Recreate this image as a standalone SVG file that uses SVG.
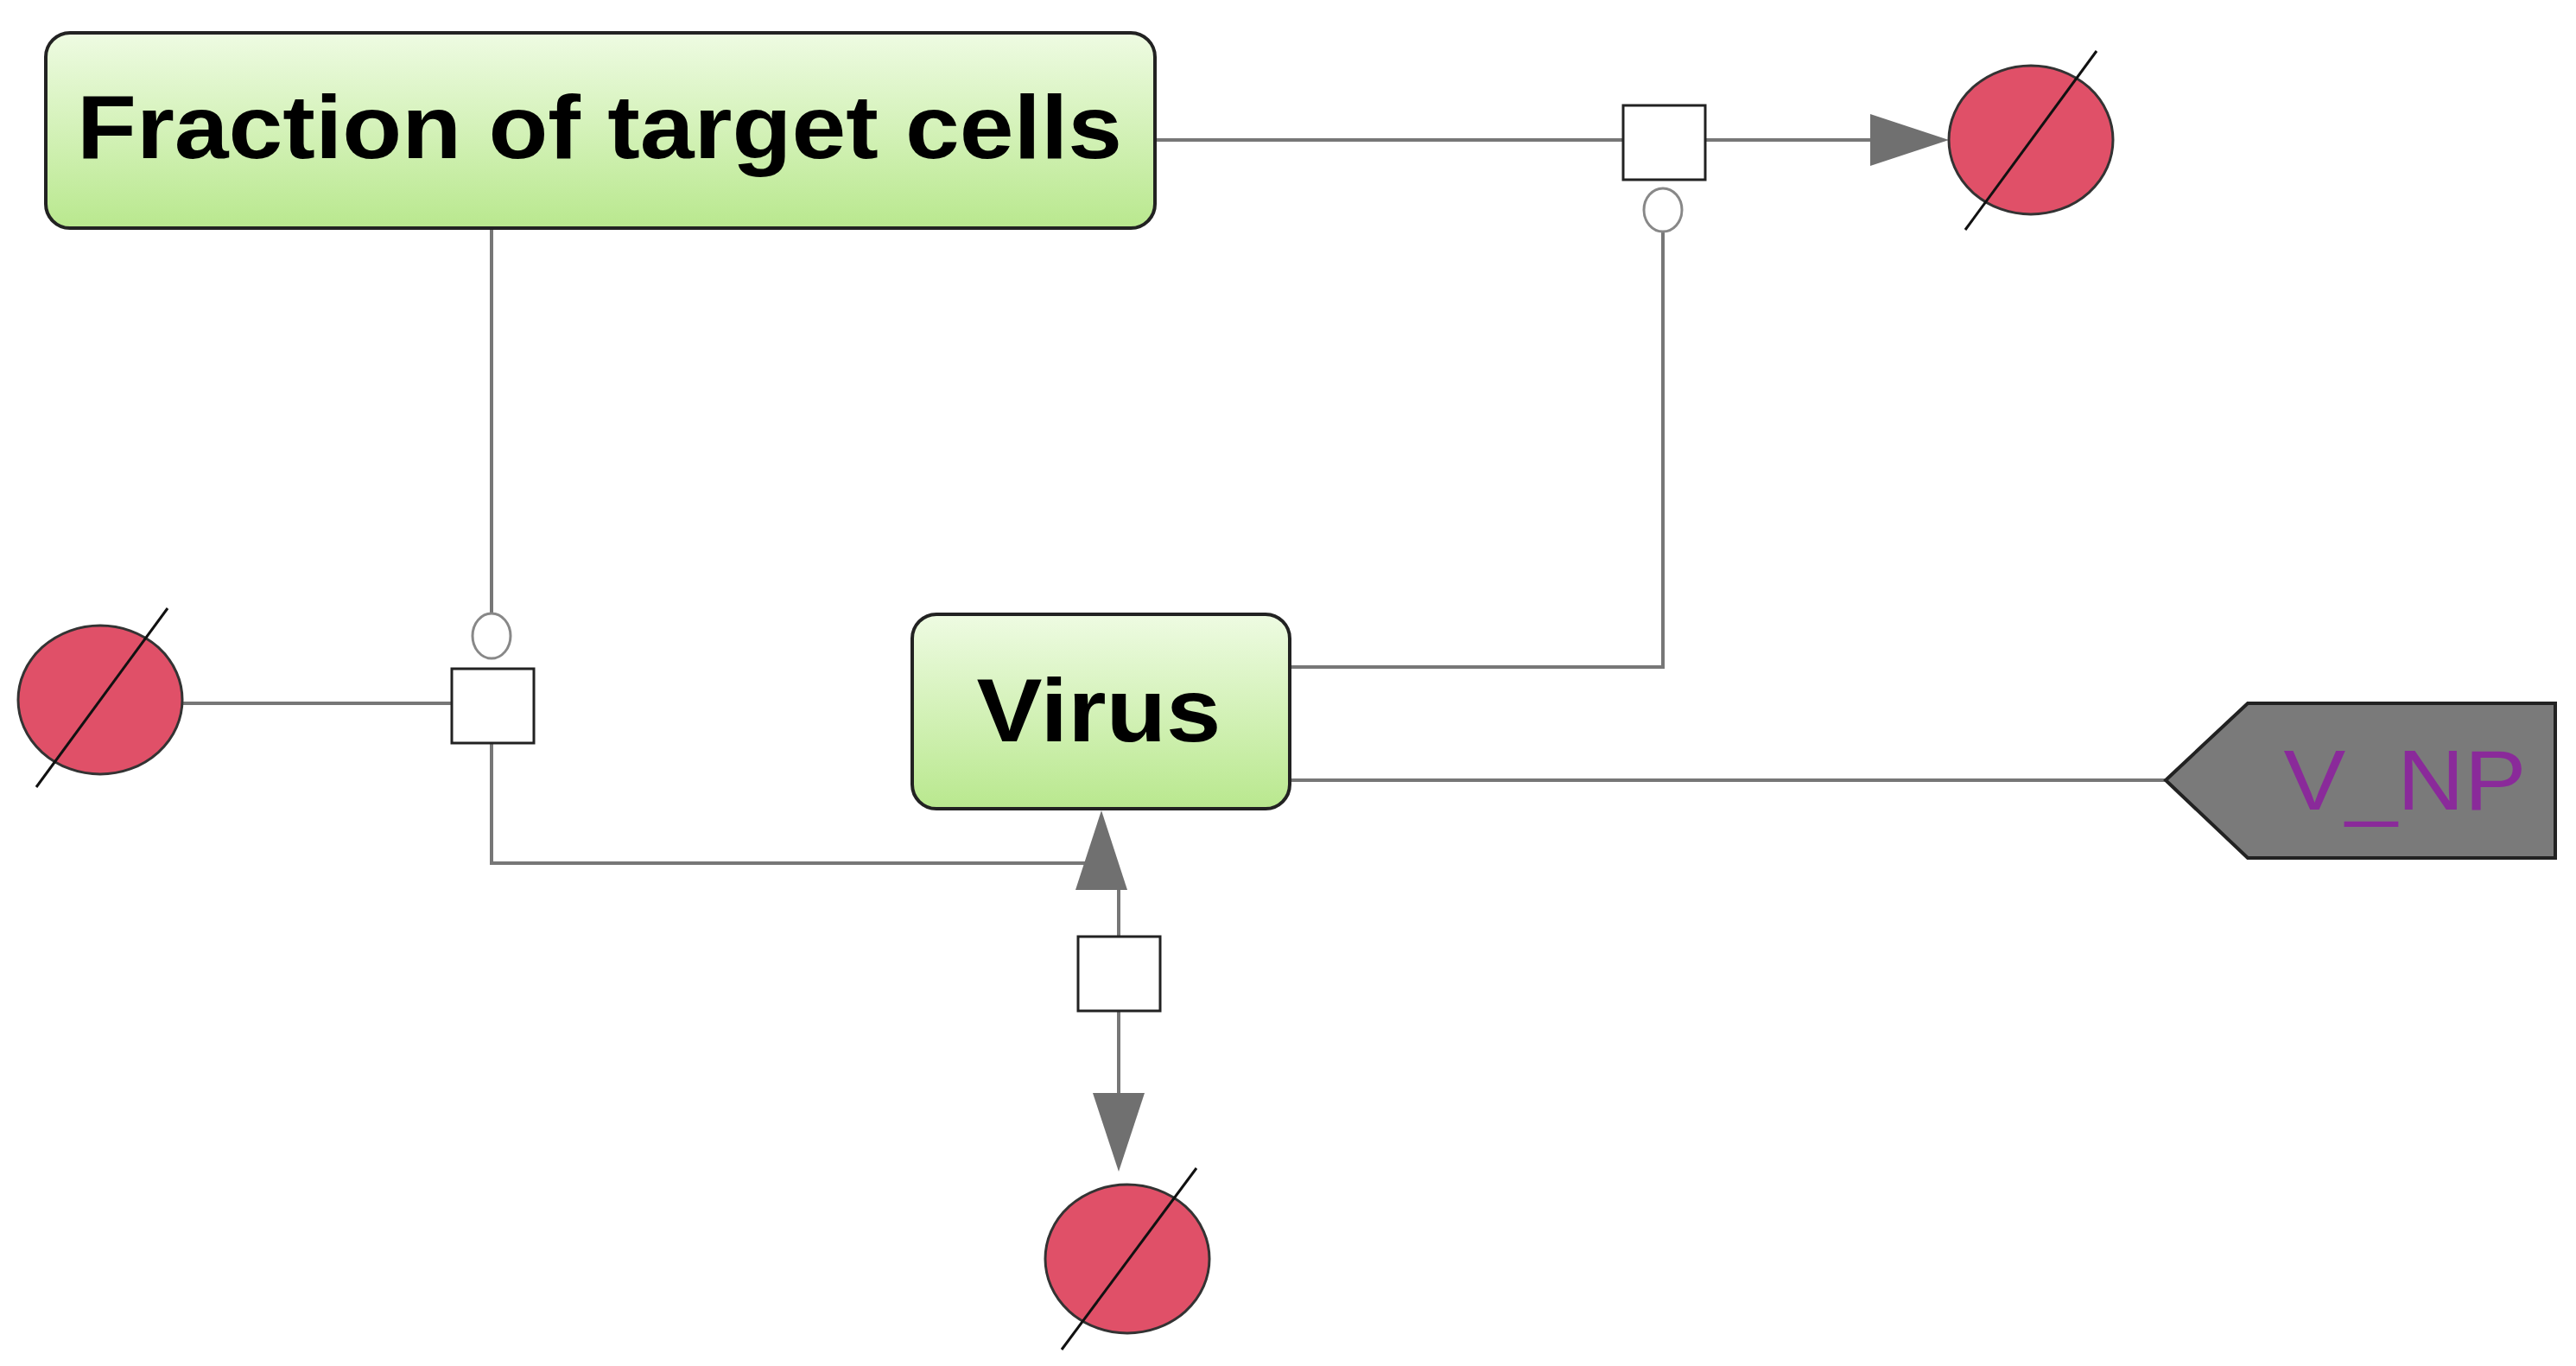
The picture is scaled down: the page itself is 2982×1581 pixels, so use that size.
<svg xmlns="http://www.w3.org/2000/svg" width="2982" height="1581" viewBox="0 0 2982 1581">
<defs>
<linearGradient id="g" x1="0" y1="0" x2="0" y2="1"><stop offset="0" stop-color="#eefbe2"/><stop offset="1" stop-color="#b9e88e"/></linearGradient>
</defs>
<style>
.ln{stroke:#777;stroke-width:4;fill:none}
.sq{fill:#fff;stroke:#222;stroke-width:3}
.es{fill:#e05068;stroke:#333;stroke-width:3}
.sl{stroke:#111;stroke-width:3}
.mod{fill:#fff;stroke:#888;stroke-width:3}
.box{fill:url(#g);stroke:#222;stroke-width:4}
.t{font-family:"Liberation Sans",Arial,sans-serif;font-weight:bold;font-size:104px;text-anchor:middle;dominant-baseline:central}
.ah{fill:#707070}
</style>
<rect width="2982" height="1581" fill="#fff"/>
<g id="connectors">
<line class="ln" x1="1337" y1="162" x2="1879" y2="162"/>
<line class="ln" x1="1974" y1="162" x2="2165" y2="162"/>
<polygon class="ah" points="2165,132 2256,162 2165,192"/>
<polyline class="ln" points="1493,772 1925,772 1925,268"/>
<ellipse class="mod" cx="1925" cy="243" rx="22" ry="25"/>
<line class="ln" x1="569" y1="264" x2="569" y2="710"/>
<ellipse class="mod" cx="569" cy="736" rx="22" ry="26"/>
<line class="ln" x1="211" y1="814" x2="523" y2="814"/>
<polyline class="ln" points="569,860 569,999 1275,999"/>
<line class="ln" x1="1275" y1="999" x2="1275" y2="1030"/>
<polygon class="ah" points="1245,1030 1275,938 1305,1030"/>
<line class="ln" x1="1295" y1="1030" x2="1295" y2="1084"/>
<line class="ln" x1="1295" y1="1170" x2="1295" y2="1265"/>
<polygon class="ah" points="1265,1265 1295,1356 1325,1265"/>
<line class="ln" x1="1493" y1="903" x2="2507" y2="903"/>
</g>
<g id="process1"><rect class="sq" x="1879" y="122" width="95" height="86"/></g>
<g id="process2"><rect class="sq" x="523" y="774" width="95" height="86"/></g>
<g id="process3"><rect class="sq" x="1248" y="1084" width="95" height="86"/></g>
<g id="fraction"><rect class="box" x="53" y="38" width="1284" height="226" rx="28"/><text class="t" x="694" y="147" textLength="1210" lengthAdjust="spacingAndGlyphs">Fraction of target cells</text></g>
<g id="virus"><rect class="box" x="1056" y="711" width="437" height="225" rx="28"/><text class="t" x="1272" y="822" textLength="283" lengthAdjust="spacingAndGlyphs">Virus</text></g>
<g id="sink1"><ellipse class="es" cx="2351" cy="162" rx="95" ry="86"/><line class="sl" x1="2275" y1="266" x2="2427" y2="59"/></g>
<g id="source1"><ellipse class="es" cx="116" cy="810" rx="95" ry="86"/><line class="sl" x1="42" y1="911" x2="194" y2="704"/></g>
<g id="sink2"><ellipse class="es" cx="1305" cy="1457" rx="95" ry="86"/><line class="sl" x1="1229" y1="1562" x2="1385" y2="1352"/></g>
<g id="vnp"><polygon points="2507,903 2602,814 2958,814 2958,993 2602,993" fill="#7a7a7a" stroke="#222" stroke-width="4"/><text x="2784" y="903" font-family="'Liberation Sans',Arial,sans-serif" font-size="98" fill="#8a2a9a" text-anchor="middle" dominant-baseline="central" textLength="281" lengthAdjust="spacingAndGlyphs">V_NP</text></g>
</svg>
